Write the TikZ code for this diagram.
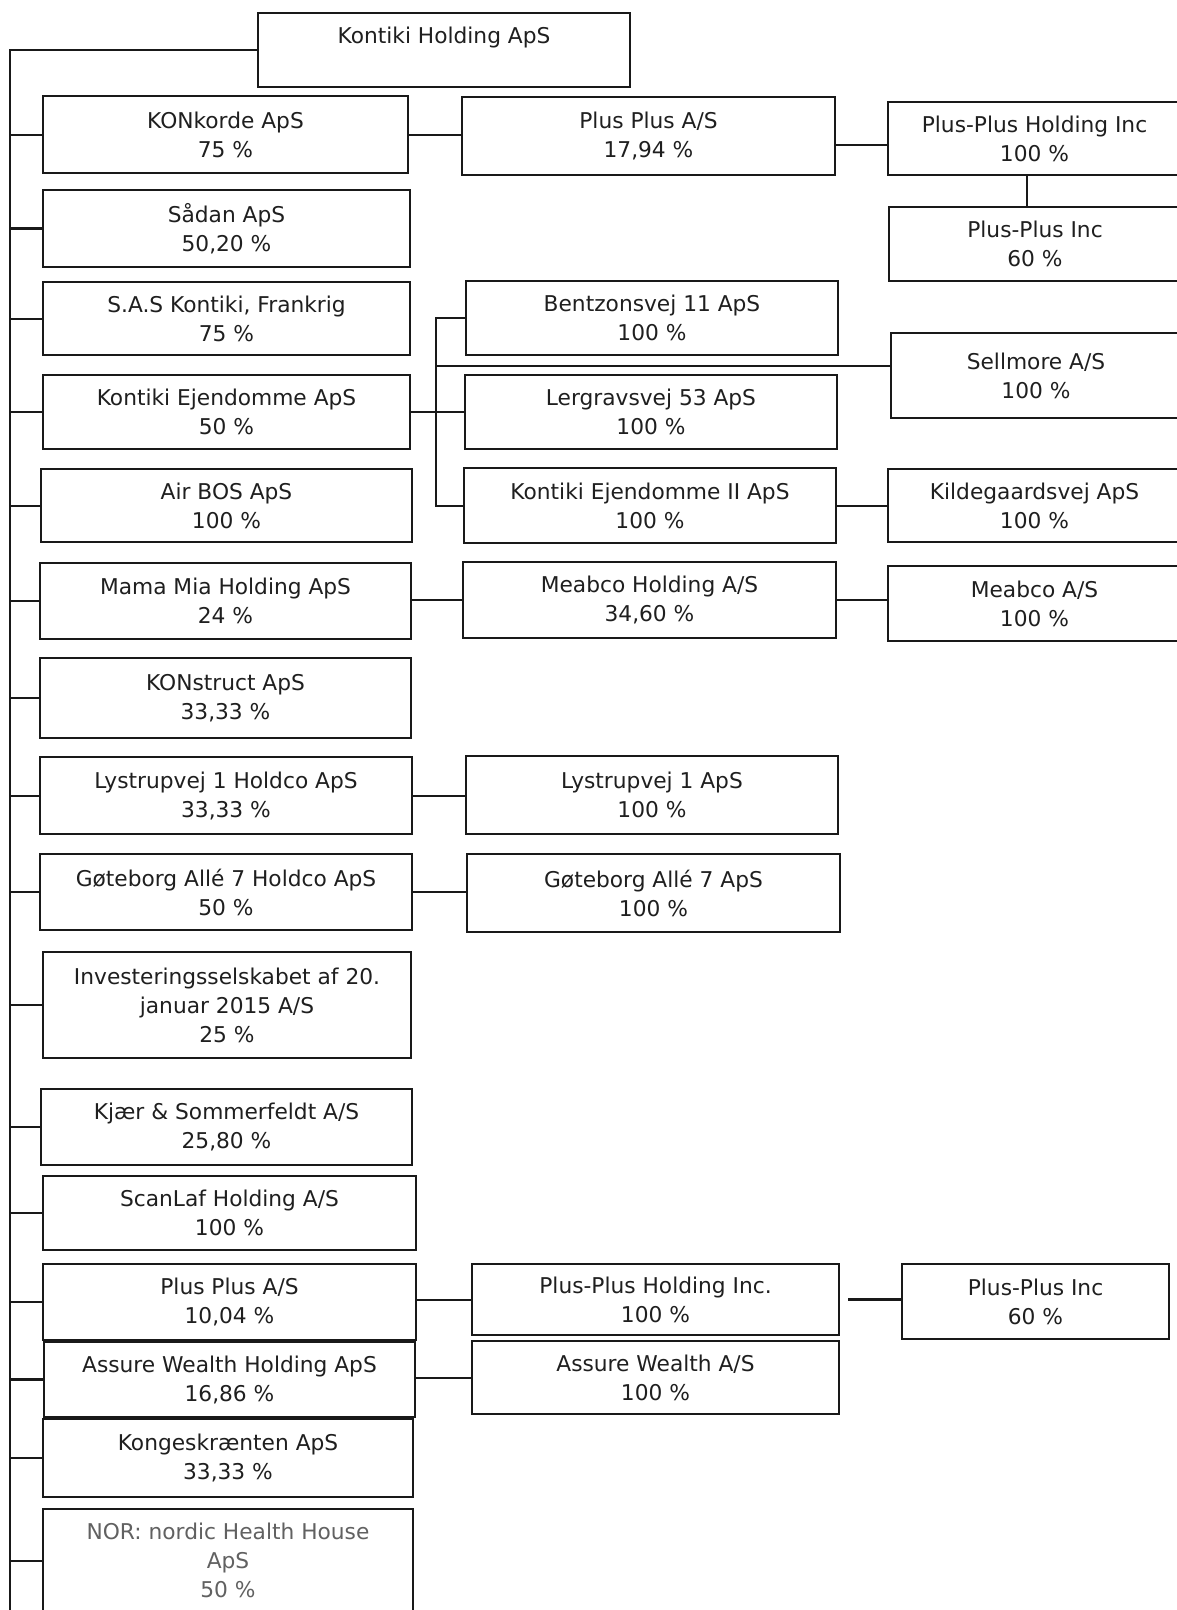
\documentclass[tikz,border=0pt]{standalone}
\usepackage{fontspec}
\newfontfamily\orgfont{DejaVu Sans}
\tikzset{
  orgbox/.style={draw=black!90, line width=1.5pt, inner sep=0pt, outer sep=0pt,
    align=center, text=black!88, font=\orgfont\fontsize{16.3pt}{21.75pt}\selectfont},
  graytext/.style={text=black!62},
  conn/.style={line width=1.5pt, draw=black!90},
  thickconn/.style={line width=2.4pt, draw=black!90}
}
\newcommand\orgnode[7][]{%
  \pgfmathsetmacro\orgW{(#5-#3)*0.75}%
  \pgfmathsetmacro\orgH{(#6-#4)*0.75}%
  \node[orgbox,minimum width=\orgW pt,minimum height=\orgH pt,#1] (#2) at ({(#3+#5)/2},{(#4+#6)/2}) {#7};%
}
\begin{document}
\begin{tikzpicture}[x=0.75pt,y=-0.75pt]
\fill[white] (0,0) rectangle (1177,1610);
\useasboundingbox (0,0) rectangle (1177,1610);
% root
\orgnode{root}{258}{13}{630}{87}{Kontiki Holding ApS\\\mbox{}}
% left column
\orgnode{konkorde}{43}{96}{408}{173}{KONkorde ApS\\75 \%}
\orgnode{sadan}{43}{190}{410}{267}{Sådan ApS\\50,20 \%}
\orgnode{sas}{43}{282}{410}{355}{S.A.S Kontiki, Frankrig\\75 \%}
\orgnode{ke}{43}{375}{410}{449}{Kontiki Ejendomme ApS\\50 \%}
\orgnode{airbos}{41}{469}{412}{542}{Air BOS ApS\\100 \%}
\orgnode{mamamia}{40}{563}{411}{639}{Mama Mia Holding ApS\\24 \%}
\orgnode{konstruct}{40}{658}{411}{738}{KONstruct ApS\\33,33 \%}
\orgnode{lysh}{40}{757}{412}{834}{Lystrupvej 1 Holdco ApS\\33,33 \%}
\orgnode{goth}{40}{854}{412}{930}{Gøteborg Allé 7 Holdco ApS\\50 \%}
\orgnode{inv}{43}{952}{411}{1058}{Investeringsselskabet af 20.\\januar 2015 A/S\\25 \%}
\orgnode{kjaer}{41}{1089}{412}{1165}{Kjær \& Sommerfeldt A/S\\25,80 \%}
\orgnode{scanlaf}{43}{1176}{416}{1250}{ScanLaf Holding A/S\\100 \%}
\orgnode{pptwo}{43}{1264}{416}{1340}{Plus Plus A/S\\10,04 \%}
\orgnode{awh}{44}{1342}{415}{1417}{Assure Wealth Holding ApS\\16,86 \%}
\orgnode{kong}{43}{1419}{413}{1497}{Kongeskrænten ApS\\33,33 \%}
\orgnode[graytext]{nor}{43}{1509}{413}{1612}{NOR: nordic Health House\\ApS\\50 \%}
% middle column
\orgnode{ppone}{462}{97}{835}{175}{Plus Plus A/S\\17,94 \%}
\orgnode{bentz}{466}{281}{838}{355}{Bentzonsvej 11 ApS\\100 \%}
\orgnode{lerg}{465}{375}{837}{449}{Lergravsvej 53 ApS\\100 \%}
\orgnode{keii}{464}{468}{836}{543}{Kontiki Ejendomme II ApS\\100 \%}
\orgnode{mh}{463}{562}{836}{638}{Meabco Holding A/S\\34,60 \%}
\orgnode{lys}{466}{756}{838}{834}{Lystrupvej 1 ApS\\100 \%}
\orgnode{got}{467}{854}{840}{932}{Gøteborg Allé 7 ApS\\100 \%}
\orgnode{pphb}{472}{1264}{839}{1335}{Plus-Plus Holding Inc.\\100 \%}
\orgnode{aw}{472}{1341}{839}{1414}{Assure Wealth A/S\\100 \%}
% right column
\orgnode{pph}{888}{102}{1181}{175}{Plus-Plus Holding Inc\\100 \%}
\orgnode{ppi}{889}{207}{1181}{281}{Plus-Plus Inc\\60 \%}
\orgnode{sell}{891}{333}{1181}{418}{Sellmore A/S\\100 \%}
\orgnode{kilde}{888}{469}{1181}{542}{Kildegaardsvej ApS\\100 \%}
\orgnode{meab}{888}{566}{1181}{641}{Meabco A/S\\100 \%}
\orgnode{ppib}{902}{1264}{1169}{1339}{Plus-Plus Inc\\60 \%}
% trunk
\coordinate (tk) at (10,50);
\coordinate (tkb) at (10,1612);
\coordinate (br) at (436,0);
\draw[conn] (root.west) -- (tk) -- (tkb);
\foreach \n in {konkorde,sas,ke,airbos,mamamia,konstruct,lysh,goth,inv,kjaer,scanlaf,pptwo,kong,nor}
  \draw[conn] (\n.west -| tk) -- (\n.west);
\draw[thickconn] (sadan.west -| tk) -- (sadan.west);
\draw[thickconn] (awh.west -| tk) -- (awh.west);
% second level
\draw[conn] (konkorde.east) -- (konkorde.east -| ppone.west);
\draw[conn] ([yshift=-7pt]ppone.east) -- ([yshift=-7pt]ppone.east -| pph.west);
\draw[conn] ([xshift=-6pt]pph.south) -- ([xshift=-6pt]pph.south |- ppi.north);
\draw[conn] (ke.east) -- (ke.east -| lerg.west);
\draw[conn] (bentz.west) -- (bentz.west -| br) -- (keii.west -| br) -- (keii.west);
\draw[conn] ([yshift=7pt]sell.west -| br) -- ([yshift=7pt]sell.west);
\draw[conn] (keii.east) -- (keii.east -| kilde.west);
\draw[conn] (mamamia.east |- mh.west) -- (mh.west);
\draw[conn] (mh.east) -- (mh.east -| meab.west);
\draw[conn] (lysh.east) -- (lysh.east -| lys.west);
\draw[conn] (goth.east) -- (goth.east -| got.west);
\draw[conn] (pptwo.east |- pphb.west) -- (pphb.west);
\draw[thickconn] ([xshift=7pt]pphb.east) -- (pphb.east -| ppib.west);
\draw[conn] (awh.east |- aw.west) -- (aw.west);
\end{tikzpicture}
\end{document}
